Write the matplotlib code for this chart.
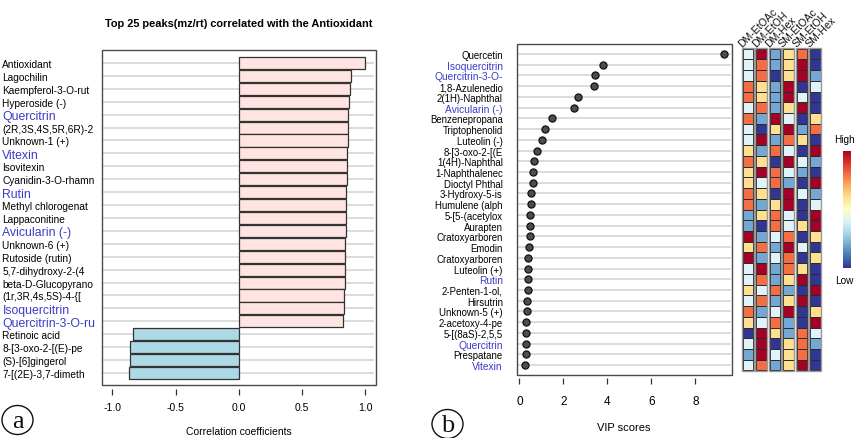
import matplotlib
matplotlib.use("Agg")
import matplotlib.pyplot as plt
import numpy as np
from matplotlib.patches import Rectangle, Ellipse

plt.rcParams['font.family'] = ['Liberation Sans', 'DejaVu Sans']

# ---------------- data ----------------
corr_labels = ["Antioxidant", "Lagochilin", "Kaempferol-3-O-rut", "Hyperoside (-)", "Quercitrin",
               "(2R,3S,4S,5R,6R)-2", "Unknown-1 (+)", "Vitexin", "Isovitexin", "Cyanidin-3-O-rhamn",
               "Rutin", "Methyl chlorogenat", "Lappaconitine", "Avicularin (-)", "Unknown-6 (+)",
               "Rutoside (rutin)", "5,7-dihydroxy-2-(4", "beta-D-Glucopyrano", "(1r,3R,4s,5S)-4-{[",
               "Isoquercitrin", "Quercitrin-3-O-ru", "Retinoic acid", "8-[3-oxo-2-[(E)-pe",
               "(S)-[6]gingerol", "7-[(2E)-3,7-dimeth"]
corr_values = [1.0, 0.889, 0.878, 0.873, 0.868, 0.864, 0.862, 0.860, 0.857, 0.855, 0.852, 0.850,
               0.849, 0.847, 0.845, 0.843, 0.840, 0.838, 0.835, 0.832, 0.829,
               -0.839, -0.861, -0.863, -0.869]
corr_blue = ["Quercitrin", "Vitexin", "Rutin", "Avicularin (-)", "Isoquercitrin", "Quercitrin-3-O-ru"]
corr_ticks = [-1.0, -0.5, 0.0, 0.5, 1.0]

vip_labels = ["Quercetin", "Isoquercitrin", "Quercitrin-3-O-", "1,8-Azulenedio", "2(1H)-Naphthal",
              "Avicularin (-)", "Benzenepropana", "Triptophenolid", "Luteolin (-)", "8-[3-oxo-2-[(E",
              "1(4H)-Naphthal", "1-Naphthalenec", "Dioctyl Phthal", "3-Hydroxy-5-is", "Humulene (alph",
              "5-[5-(acetylox", "Aurapten", "Cratoxyarboren", "Emodin", "Cratoxyarboren",
              "Luteolin (+)", "Rutin", "2-Penten-1-ol,", "Hirsutrin", "Unknown-5 (+)",
              "2-acetoxy-4-pe", "5-[(8aS)-2,5,5", "Quercitrin", "Prespatane", "Vitexin"]
vip_values = [9.29, 3.80, 3.46, 3.40, 2.68, 2.49, 1.47, 1.18, 1.03, 0.80, 0.68, 0.62, 0.61, 0.53,
              0.52, 0.50, 0.49, 0.49, 0.44, 0.41, 0.41, 0.40, 0.38, 0.34, 0.34, 0.32, 0.30, 0.29,
              0.28, 0.26]
vip_blue = ["Isoquercitrin", "Quercitrin-3-O-", "Avicularin (-)", "Rutin", "Quercitrin", "Vitexin"]
vip_ticks = [0, 2, 4, 6, 8]

groups = ["DM-EtOAc", "DM-EtOH", "DM-Hex", "SM-EtOAc", "SM-EtOH", "SM-Hex"]
# relative level (1 = low ... 6 = high) per compound row and group
heat_levels = [
    [3, 6, 2, 4, 5, 1], [3, 5, 2, 4, 6, 1], [3, 5, 1, 4, 6, 2], [5, 4, 2, 6, 1, 3],
    [5, 4, 2, 6, 3, 1], [3, 5, 2, 4, 6, 1], [5, 2, 6, 3, 1, 4], [3, 1, 4, 6, 2, 5],
    [3, 6, 2, 5, 4, 1], [4, 2, 5, 3, 1, 6], [5, 4, 1, 6, 3, 2], [4, 6, 5, 3, 2, 1],
    [4, 3, 5, 2, 1, 6], [5, 4, 1, 6, 3, 2], [5, 2, 4, 6, 1, 3], [2, 4, 5, 3, 1, 6],
    [2, 1, 5, 3, 4, 6], [6, 2, 3, 5, 1, 4], [4, 5, 2, 6, 3, 1], [6, 2, 3, 5, 1, 4],
    [3, 6, 2, 5, 4, 1], [3, 5, 2, 4, 6, 1], [4, 3, 5, 2, 1, 6], [3, 5, 2, 4, 6, 1],
    [5, 2, 3, 6, 1, 4], [4, 3, 5, 2, 1, 6], [1, 6, 4, 2, 5, 3], [3, 6, 1, 4, 5, 2],
    [2, 6, 3, 4, 5, 1], [3, 5, 2, 4, 6, 1]]
level_colors = {1: '#313695', 2: '#74a8d4', 3: '#e0f3f8', 4: '#fee090', 5: '#f46d43', 6: '#a50026'}

BLUE = '#3c3cc8'
FRAME = '#4a4a4a'
W, H = 856, 439

fig = plt.figure(figsize=(W / 100, H / 100), dpi=100)


def px_axes(x0, y0, x1, y1, **kw):
    return fig.add_axes([x0 / W, 1 - y1 / H, (x1 - x0) / W, (y1 - y0) / H], **kw)


def frame(ax):
    for s in ax.spines.values():
        s.set_visible(False)
    ax.add_patch(Rectangle((0, 0), 1, 1, transform=ax.transAxes, fill=False,
                           edgecolor=FRAME, lw=1.0, clip_on=False, zorder=5))


# ---------------- panel a ----------------
axa = px_axes(101.7, 51, 375.7, 386)
n = len(corr_labels)
ya = np.arange(n)
for y in ya:
    axa.axhline(y, xmin=0.01, xmax=0.99, color='#d9d9d9', lw=1.3, zorder=0)
cols = ['#ffe4e1' if v > 0 else '#add8e6' for v in corr_values]
axa.barh(ya, corr_values, height=0.94, color=cols, edgecolor='#333333', lw=0.9, zorder=2)
axa.set_xlim(-1.085, 1.085)
axa.set_ylim(n - 1 + 0.93, -1.006)
frame(axa)
axa.spines['bottom'].set_position(('outward', 3))
axa.set_xticks(corr_ticks, [f"{t:.1f}" for t in corr_ticks])
axa.tick_params(axis='x', length=4, width=0.9, color='#333333', labelsize=7.5, pad=5)
axa.set_yticks(ya, corr_labels)
axa.tick_params(axis='y', length=0, pad=71.5)
for lab in axa.get_yticklabels():
    lab.set_horizontalalignment('left')
    if lab.get_text() in corr_blue:
        lab.set_color(BLUE)
        lab.set_fontsize(8.8)
    else:
        lab.set_fontsize(7.3)
axa.set_xlabel("Correlation coefficients", fontsize=7.5, labelpad=10)
axa.set_title("Top 25 peaks(mz/rt) correlated with the Antioxidant", fontsize=7.9,
              fontweight='bold', pad=17)

# ---------------- panel b ----------------
axb = px_axes(516.7, 44.5, 731.7, 375.7)
m = len(vip_labels)
yb = np.arange(m)
for y in yb:
    axb.axhline(y, xmin=0.01, xmax=0.99, color='#d9d9d9', lw=1.3, zorder=0)
axb.scatter(vip_values, yb, s=26, color='#4d4d4d', edgecolor='#111111', lw=0.9, zorder=3)
axb.set_xlim(-0.12, 9.65)
axb.set_ylim(m - 1 + 0.9, -0.98)
frame(axb)
axb.spines['bottom'].set_position(('outward', 2.5))
axb.set_xticks(vip_ticks, [str(t) for t in vip_ticks])
axb.tick_params(axis='x', length=4, width=0.9, color='#333333', labelsize=8.5, pad=8)
axb.set_yticks(yb, vip_labels)
axb.tick_params(axis='y', length=0, pad=10)
for lab in axb.get_yticklabels():
    if lab.get_text() in vip_blue:
        lab.set_color(BLUE)
        lab.set_fontsize(7.4)
    else:
        lab.set_fontsize(6.9)
axb.set_xlabel("VIP scores", fontsize=8, labelpad=11)

# ---------------- heatmap ----------------
axh = px_axes(738, 44.5, 826, 375.7)
axh.set_xlim(-0.74, 5.78)
axh.set_ylim(m - 1 + 0.9, -0.98)
axh.axis('off')
cw = 0.81
for r, row in enumerate(heat_levels):
    for c, lev in enumerate(row):
        axh.add_patch(Rectangle((c - cw / 2, r - 0.5), cw, 1.0, facecolor=level_colors[lev],
                                edgecolor='#2a2a2a', lw=0.7, zorder=2))
for c, g in enumerate(groups):
    axh.add_patch(Rectangle((c - cw / 2 - 0.04, -0.55), cw + 0.08, m + 0.1, fill=False,
                            edgecolor='#9a9a9a', lw=1.0, zorder=3))
    axh.text(c - 0.42, -0.62, g, rotation=45, rotation_mode='anchor', ha='left', va='baseline',
             fontsize=7.6, color='#111111', clip_on=False)

# ---------------- colour key ----------------
axc = px_axes(842.7, 151.7, 850.7, 269)
grad = np.linspace(1, 0, 200).reshape(-1, 1)
axc.imshow(grad, aspect='auto', cmap='RdYlBu_r', extent=(0, 1, 0, 1))
axc.axis('off')
axc.text(0.2, 1.06, "High", transform=axc.transAxes, ha='center', va='bottom', fontsize=7.2)
axc.text(0.2, -0.06, "Low", transform=axc.transAxes, ha='center', va='top', fontsize=7.2)

# ---------------- panel letters ----------------
ov = fig.add_axes([0, 0, 1, 1], zorder=-1)
ov.set_xlim(0, W)
ov.set_ylim(H, 0)
ov.axis('off')
for (cx, cy, letter) in [(17.5, 421, 'a'), (447.5, 425, 'b')]:
    ov.add_patch(Ellipse((cx, cy), 31, 29, fill=False, edgecolor='#111111', lw=1.0))
    ov.text(cx, cy + 1, letter, ha='center', va='center', fontsize=19,
            family='Liberation Serif', color='#111111')

fig.savefig("out.png", dpi=100)
